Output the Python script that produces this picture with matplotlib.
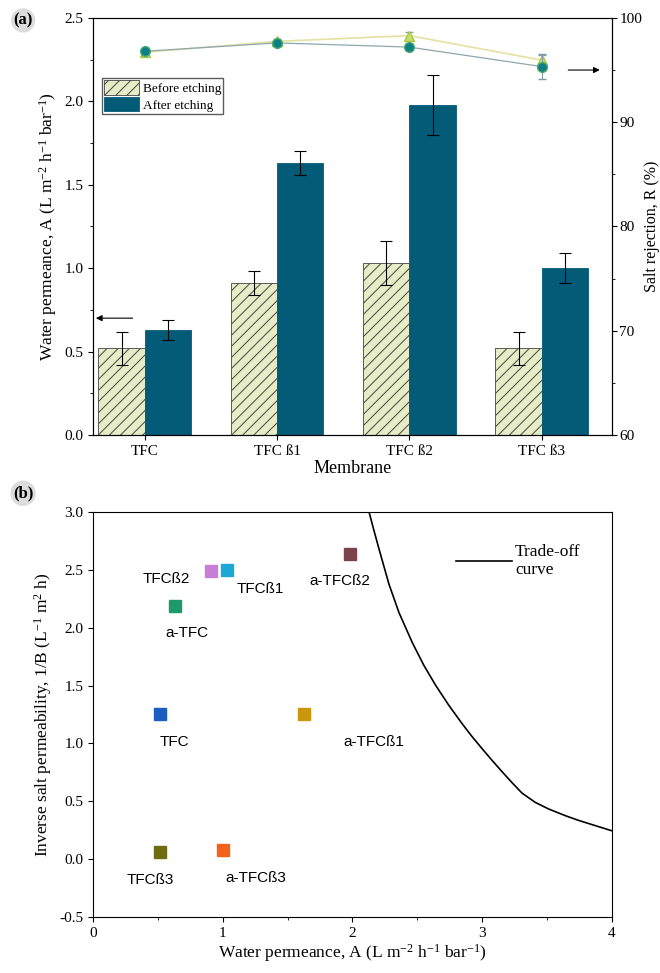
import matplotlib.pyplot as plt
from matplotlib.ticker import MultipleLocator

plt.rcParams['font.family'] = ['Liberation Serif', 'DejaVu Serif']
plt.rcParams['mathtext.fontset'] = 'custom'
plt.rcParams['mathtext.rm'] = 'Liberation Serif'
plt.rcParams['mathtext.it'] = 'Liberation Serif:italic'
plt.rcParams['hatch.linewidth'] = 0.7

# panel (a): permeance bars + rejection points
membranes = ['TFC', 'TFC ß1', 'TFC ß2', 'TFC ß3']
perm_before = [0.52, 0.91, 1.03, 0.52]
perm_before_err = [0.10, 0.07, 0.13, 0.10]
perm_after = [0.63, 1.63, 1.98, 1.00]
perm_after_err = [0.06, 0.07, 0.18, 0.09]
rej_before = [96.7, 97.75, 98.3, 95.95]
rej_before_err = [0.2, 0.2, 0.3, 0.5]
rej_after = [96.8, 97.6, 97.2, 95.33]
rej_after_err = [0.2, 0.2, 0.3, 1.2]

# panel (b): 1/B vs A
pt_names = ['TFC', 'a-TFC', 'TFCß2', 'TFCß1', 'a-TFCß2', 'a-TFCß1', 'TFCß3', 'a-TFCß3']
pt_A = [0.52, 0.63, 0.91, 1.03, 1.98, 1.63, 0.52, 1.00]
pt_invB = [1.25, 2.19, 2.49, 2.50, 2.64, 1.25, 0.06, 0.08]
pt_colors = ['#1a5fc0', '#1c9a6c', '#c67ed6', '#1aa9d4', '#7b434b', '#c9960c', '#6f6d12', '#f2621a']
pt_offsets = [(10, -20), (9, -20), (-32, -6), (24, -14), (-7, -20), (50, -20), (-7, -20), (24, -20)]
tradeoff_A = [2.128, 2.167, 2.205, 2.244, 2.282, 2.359, 2.462, 2.551, 2.641, 2.744, 2.846, 2.923,
              3.0, 3.077, 3.154, 3.231, 3.308, 3.41, 3.513, 3.64, 3.74, 3.885, 4.0]
tradeoff_invB = [3.0, 2.835, 2.68, 2.525, 2.375, 2.13, 1.87, 1.674, 1.503, 1.328, 1.17, 1.058,
                 0.954, 0.853, 0.755, 0.66, 0.57, 0.49, 0.433, 0.376, 0.336, 0.285, 0.245]

fig = plt.figure(figsize=(6.6, 9.73), dpi=100)
ax1 = fig.add_axes([0.141, 0.553, 0.786, 0.4286])
ax2 = ax1.twinx()

x = list(range(len(membranes)))
w = 0.35
ax1.bar([i - w / 2 for i in x], perm_before, w, yerr=perm_before_err, color='#e6edc6',
        edgecolor='#444444', linewidth=0.6, hatch='///', capsize=4,
        error_kw=dict(elinewidth=0.8, capthick=0.8), label='Before etching')
ax1.bar([i + w / 2 for i in x], perm_after, w, yerr=perm_after_err, color='#045b78',
        edgecolor='#045b78', linewidth=0.6, capsize=4,
        error_kw=dict(elinewidth=0.8, capthick=0.8), label='After etching')
ax1.set_xlim(-0.39, 3.53)
ax1.set_ylim(0, 2.5)
ax1.set_xticks(x)
ax1.set_xticklabels(membranes, fontsize=11)
ax1.yaxis.set_major_locator(MultipleLocator(0.5))
ax1.yaxis.set_minor_locator(MultipleLocator(0.25))
ax1.tick_params(labelsize=11, direction='out')
ax1.tick_params(axis='x', which='minor', bottom=False)
ax1.set_xlabel('Membrane', fontsize=13, labelpad=2)
ax1.set_ylabel('Water permeance, A (L m$^{-2}$ h$^{-1}$ bar$^{-1}$)', fontsize=12.5)
ax1.legend(loc='upper left', bbox_to_anchor=(0.018, 0.855), fontsize=9.5, frameon=True,
           fancybox=False, edgecolor='#333333', borderpad=0.15, handlelength=2.6,
           handleheight=1.3, labelspacing=0.15, handletextpad=0.3, borderaxespad=0)
ax1.annotate('', xy=(-0.39, 0.70), xytext=(-0.07, 0.70), annotation_clip=False,
             arrowprops=dict(arrowstyle='-|>', color='black', lw=0.8, mutation_scale=9))

ax2.errorbar(x, rej_before, yerr=rej_before_err, color='#e3e2a0', lw=1.2, marker='^', ms=7,
             mfc='#c6de6a', mec='#a8c848', ecolor='#8aa0a8', elinewidth=0.8, capsize=3, zorder=3)
ax2.errorbar(x, rej_after, yerr=rej_after_err, color='#8fa7ad', lw=0.9, marker='o', ms=7,
             mfc='#107e86', mec='#4aa86a', ecolor='#7f9aa6', elinewidth=0.8, capsize=3, zorder=4)
ax2.set_ylim(60, 100)
ax2.yaxis.set_major_locator(MultipleLocator(10))
ax2.yaxis.set_minor_locator(MultipleLocator(5))
ax2.tick_params(labelsize=11, direction='out', pad=2)
ax2.set_ylabel('Salt rejection, R (%)', fontsize=11.5, labelpad=1)
ax2.annotate('', xy=(3.46, 95.0), xytext=(3.18, 95.0),
             arrowprops=dict(arrowstyle='-|>', color='black', lw=0.8, mutation_scale=9))

# panel (b)
ax3 = fig.add_axes([0.141, 0.0576, 0.786, 0.4162])
for name, a, ib, c, off in zip(pt_names, pt_A, pt_invB, pt_colors, pt_offsets):
    ax3.plot(a, ib, 's', color=c, ms=8)
    ax3.annotate(name, (a, ib), xytext=off, textcoords='offset points', ha='center', va='center',
                 fontsize=11, family=['Liberation Sans', 'DejaVu Sans'])
ax3.plot(tradeoff_A, tradeoff_invB, color='black', lw=1.2, label='Trade-off\ncurve')
ax3.set_xlim(0, 4)
ax3.set_ylim(-0.5, 3.0)
ax3.xaxis.set_major_locator(MultipleLocator(1))
ax3.xaxis.set_minor_locator(MultipleLocator(0.5))
ax3.yaxis.set_major_locator(MultipleLocator(0.5))
ax3.yaxis.set_major_formatter(plt.FormatStrFormatter('%.1f'))
ax3.tick_params(labelsize=11, direction='out')
ax3.set_xlabel('Water permeance, A (L m$^{-2}$ h$^{-1}$ bar$^{-1}$)', fontsize=12.5, labelpad=2)
ax3.set_ylabel('Inverse salt permeability, 1/B (L$^{-1}$ m$^{2}$ h)', fontsize=12.5)
ax3.legend(loc='upper right', bbox_to_anchor=(0.97, 0.96), frameon=False, fontsize=12.5,
           handlelength=3.2, handletextpad=0.2)

for lab, yy in [('(a)', 0.979), ('(b)', 0.493)]:
    fig.text(0.035, yy, lab, fontsize=12, fontweight='bold', ha='center', va='center',
             bbox=dict(boxstyle='circle,pad=0.15', fc='#dcdcdc', ec='none'))

plt.savefig('out.png', dpi=100)
